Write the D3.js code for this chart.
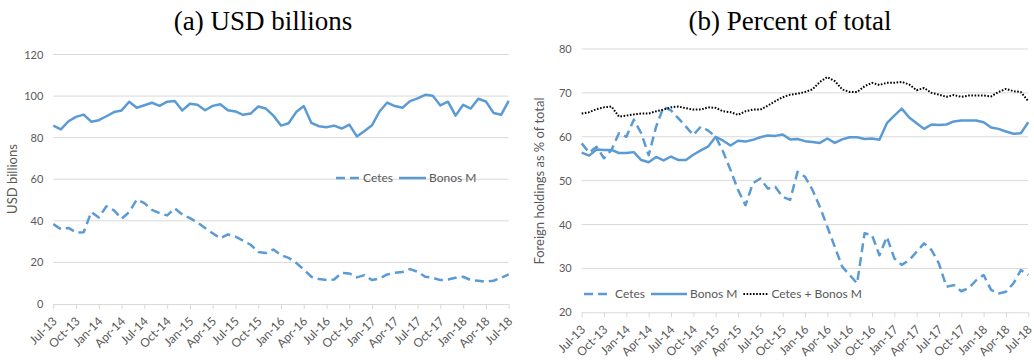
<!DOCTYPE html>
<html>
<head>
<meta charset="utf-8">
<script src="https://cdn.jsdelivr.net/npm/d3@7"></script>
<style>
  body { margin: 0; background: #fff; }
  svg { display: block; }
</style>
</head>
<body>
<svg id="chart" width="1034" height="360"></svg>
<script>
// Quarterly category labels (monthly data, Jul-13 to Jul-18)
const tickLabels = ["Jul-13","Oct-13","Jan-14","Apr-14","Jul-14","Oct-14","Jan-15","Apr-15","Jul-15","Oct-15",
  "Jan-16","Apr-16","Jul-16","Oct-16","Jan-17","Apr-17","Jul-17","Oct-17","Jan-18","Apr-18","Jul-18"];

// Panel (a): foreign holdings, USD billions
const usdCetes = [38.4,36,36.6,34.4,34.5,44.2,41.6,47,45,41,
  44.2,50.2,48.5,45.3,43.7,42.6,46,43,41.3,39.2,
  36.5,34,31.6,33.5,32.4,30.5,28.5,25,24.5,26.2,
  23.5,22.2,19.8,16.6,13.1,12,11.5,11.8,15,14.7,
  12.8,13.9,11.5,12.3,14.2,15,15.4,16.8,15.5,13.1,
  12.6,11.5,11.8,12.6,13.1,11.5,11.2,10.7,11.2,12.6,14.2];
const usdBonos = [85.8,84,87.9,90,91.1,87.7,88.4,90.3,92.3,93.1,
  97.3,94.4,95.6,96.8,95.3,97.3,97.6,93.1,96.3,95.8,
  93.2,95.3,96.1,93.2,92.6,91,91.6,95,94,90.6,
  85.8,86.9,92.3,95.2,87.1,85.5,85,85.8,84.4,86.3,
  80.6,83.2,86,92.7,96.9,95.2,94.4,97.6,98.9,100.6,
  100.2,95.5,97.3,90.6,95.8,94,98.7,97.4,91.9,91,97.7];

// Panel (b): foreign holdings as % of total outstanding
const pctCetes = [58.5,56.4,57.7,55.1,57,60.8,60,63.9,60.8,55.8,
  62.3,66.8,66,64.2,62.3,60.4,62.3,61.4,60,56.6,
  52.4,47.9,44.4,49.4,50.5,48.2,48.6,46.3,45.6,52,
  50.9,47.9,44,39.5,34.9,30.4,28.5,26.6,38,37.6,
  33,37.2,32.3,30.8,31.9,33.8,35.7,34.2,31.1,25.8,
  26.2,24.8,25.5,27.3,28.5,25.1,24.3,24.7,26.6,29.6,28.5];
const pctBonos = [56.4,55.7,57.1,57,57,56.3,56.3,56.5,54.7,54.2,
  55.4,54.6,55.5,54.7,54.7,55.9,56.9,57.8,60,59.1,
  58,59.1,58.9,59.3,59.9,60.3,60.2,60.5,59.4,59.5,
  59,58.8,58.6,59.6,58.6,59.4,59.9,59.9,59.5,59.6,
  59.3,63.1,64.8,66.4,64.4,63.1,61.8,62.8,62.7,62.8,
  63.5,63.7,63.7,63.7,63.3,62.1,61.8,61.2,60.7,60.8,63.3];
const pctTotal = [65.3,65.6,66.3,66.7,66.9,64.6,64.8,65.1,65.3,65.3,
  65.8,66.2,66.7,66.9,66.5,66.2,66.2,66.7,66.6,65.8,
  65.6,65,65.8,66.2,66.2,67.1,68.1,69,69.6,69.8,
  70.2,70.8,72.5,73.6,72.7,70.8,70.2,70.2,71.5,72.3,
  71.8,72.3,72.3,72.5,71.9,70.6,71.1,70,69.6,69.1,
  69.5,69.1,69.4,69.4,69.4,69.2,70.2,70.9,70.4,70.2,68.1];

const BLUE = "#5B9BD5";
const GRID = "#d9d9d9";
const TEXT = "#595959";
const LABEL_FONT = "Lato, 'Open Sans', sans-serif";

const svg = d3.select("#chart");

function drawPanel(p) {
  const g = svg.append("g");
  const x = d3.scaleLinear().domain([0, p.series[0].values.length - 1]).range([p.left, p.right]);
  const y = d3.scaleLinear().domain(p.yDomain).range([p.bottom, p.top]);

  // horizontal gridlines
  g.append("g")
    .selectAll("line")
    .data(p.yTicks.slice(1))
    .join("line")
    .attr("x1", p.left).attr("x2", p.right)
    .attr("y1", d => y(d)).attr("y2", d => y(d))
    .attr("stroke", GRID).attr("stroke-width", 1);

  // y axis labels
  const yAxis = d3.axisLeft(y).tickValues(p.yTicks).tickSize(0).tickPadding(10);
  const ya = g.append("g").attr("transform", `translate(${p.left},0)`).call(yAxis);
  ya.select(".domain").remove();
  ya.selectAll("text").attr("fill", TEXT).style("font-family", LABEL_FONT).style("font-size", "11px");

  // x axis with quarterly ticks
  const quarterIdx = d3.range(0, p.series[0].values.length, 3);
  const xAxis = d3.axisBottom(x).tickValues(quarterIdx).tickSize(5)
    .tickFormat((d, i) => p.tickLabels[i]);
  const xa = g.append("g").attr("transform", `translate(0,${p.bottom})`).call(xAxis);
  xa.select(".domain").attr("stroke", GRID).attr("d", `M${p.left},0.5H${p.right}`);
  xa.selectAll(".tick line").attr("stroke", GRID);
  xa.selectAll("text")
    .attr("fill", TEXT)
    .style("font-family", LABEL_FONT).style("font-size", "12px")
    .attr("text-anchor", "end")
    .attr("dy", null).attr("y", null)
    .attr("transform", "translate(4,18) rotate(-45)");

  // series lines
  const line = d3.line().x((d, i) => x(i)).y(d => y(d));
  p.series.forEach(s => {
    g.append("path")
      .datum(s.values)
      .attr("fill", "none")
      .attr("stroke", s.color)
      .attr("stroke-width", s.width)
      .attr("stroke-dasharray", s.dash)
      .attr("stroke-linejoin", "round")
      .attr("d", line);
  });

  // y axis title
  g.append("text")
    .attr("transform", `translate(${p.yTitleX},${p.yTitleY}) rotate(-90)`)
    .attr("text-anchor", "middle")
    .attr("fill", TEXT)
    .style("font-family", LABEL_FONT).style("font-size", "13px")
    .text(p.yTitle);

  // panel title
  g.append("text")
    .attr("x", p.titleX).attr("y", 30)
    .attr("text-anchor", "middle")
    .attr("fill", "#000")
    .style("font-family", "'Liberation Serif', 'DejaVu Serif', serif")
    .style("font-size", "27px")
    .text(p.title);

  // legend
  const lg = g.append("g").attr("transform", `translate(${p.legendX},${p.legendY})`);
  let cx = 0;
  p.series.forEach(s => {
    lg.append("line")
      .attr("x1", cx).attr("x2", cx + s.legendLen)
      .attr("y1", 0).attr("y2", 0)
      .attr("stroke", s.color).attr("stroke-width", s.width)
      .attr("stroke-dasharray", s.dash);
    const t = lg.append("text")
      .attr("x", cx + s.legendLen + 3).attr("y", 0).attr("dy", "0.35em")
      .attr("fill", TEXT)
      .style("font-family", LABEL_FONT).style("font-size", "12px")
      .text(s.name);
    cx += s.legendLen + 3 + t.node().getComputedTextLength() + 6;
  });
}

const DASH = "9,5";

drawPanel({
  title: "(a) USD billions",
  titleX: 263,
  left: 53.3, right: 508.7, top: 54.5, bottom: 304,
  yDomain: [0, 120], yTicks: [0, 20, 40, 60, 80, 100, 120],
  tickLabels: tickLabels,
  yTitle: "USD billions", yTitleX: 17, yTitleY: 179,
  legendX: 336, legendY: 178,
  series: [
    { name: "Cetes", values: usdCetes, color: BLUE, width: 2.5, dash: DASH, legendLen: 24 },
    { name: "Bonos M", values: usdBonos, color: BLUE, width: 2.5, dash: null, legendLen: 27 }
  ]
});

drawPanel({
  title: "(b) Percent of total",
  titleX: 790,
  left: 581.7, right: 1028.3, top: 49, bottom: 312.3,
  yDomain: [20, 80], yTicks: [20, 30, 40, 50, 60, 70, 80],
  tickLabels: tickLabels,
  yTitle: "Foreign holdings as % of total", yTitleX: 544, yTitleY: 181,
  legendX: 584, legendY: 294,
  series: [
    { name: "Cetes", values: pctCetes, color: BLUE, width: 2.5, dash: DASH, legendLen: 28 },
    { name: "Bonos M", values: pctBonos, color: BLUE, width: 2.5, dash: null, legendLen: 36 },
    { name: "Cetes + Bonos M", values: pctTotal, color: "#000", width: 2, dash: "1.6,1.6", legendLen: 25 }
  ]
});
</script>
</body>
</html>
